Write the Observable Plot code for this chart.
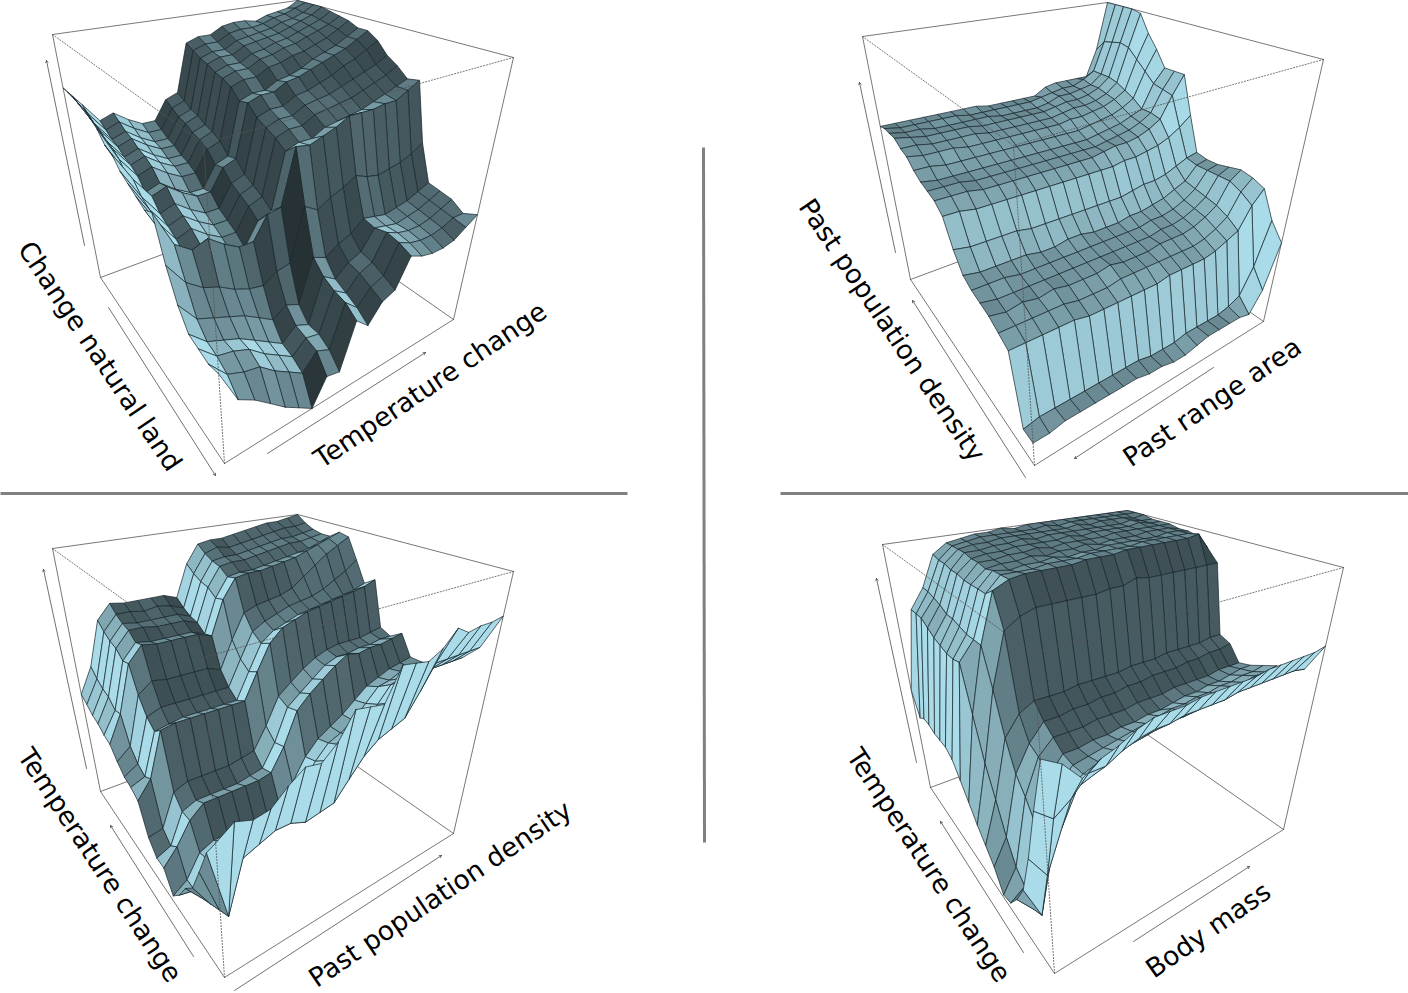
<!DOCTYPE html>
<html><head><meta charset="utf-8">
<style>html,body{margin:0;padding:0;background:#fff}svg{display:block}</style>
<script src="https://cdn.jsdelivr.net/npm/d3@7"></script>
<script src="https://cdn.jsdelivr.net/npm/@observablehq/plot@0.6"></script>
</head><body><div id="chart"></div>
<script>
// Surface heights in percent of box height; rows run front to back, columns left-front to right-front.
const zPanel1 = [
[28,17,14,10,6,3,0,8,7,22,18,24,26,36,34,33,33,34,37,40],
[27,21,19,18,14,11,8,13,11,25,21,26,28,38,36,35,35,36,38,38],
[28,23,22,20,16,13,10,14,13,26,23,28,30,39,37,36,36,37,39,41],
[29,24,22,20,17,14,11,15,13,28,25,29,31,38,37,36,37,38,40,42],
[35,28,26,24,22,19,16,19,17,32,30,33,35,39,38,37,38,39,41,43],
[45,37,33,31,28,26,25,28,29,48,45,48,50,53,51,50,51,52,54,57],
[60,47,43,45,41,38,38,46,47,68,67,69,71,74,74,74,75,75,78,81],
[58,46,38,40,36,33,33,41,43,64,66,66,69,70,71,72,74,76,78,80],
[60,49,41,43,39,36,36,44,46,67,69,69,72,73,74,75,77,79,81,84],
[62,51,43,45,41,38,38,46,48,69,71,71,74,75,76,78,80,82,84,87],
[64,53,45,47,43,40,40,48,50,71,73,73,76,77,79,81,84,86,89,92],
[68,57,49,51,47,44,44,52,54,75,77,77,80,81,83,85,87,89,92,95],
[69,56,48,50,46,43,43,51,53,74,76,76,79,80,82,85,87,89,92,95],
[73,60,52,54,50,47,47,55,57,78,80,80,83,84,86,87,89,91,94,97],
[75,62,54,56,52,49,49,57,59,80,82,82,85,86,88,89,91,93,95,98],
[77,63,55,57,53,50,50,58,60,81,83,83,86,87,89,90,92,94,96,99],
[77,65,57,59,55,52,52,60,62,83,85,85,88,89,90,91,93,95,97,100],
[78,66,58,60,56,53,53,61,63,84,86,86,89,90,91,92,94,95,97,100],
[78,68,60,62,58,55,55,63,65,86,88,88,91,92,92,93,95,96,98,100],
[78,70,62,64,60,57,57,65,67,88,90,90,93,94,94,93,95,96,97,100]];
const zPanel2 = [
[7,7,8,8,8,8,8,8,7,7,6,6,7,8,8,8,8,7,14,30],
[7,8,8,8,8,8,8,8,8,7,7,7,8,8,8,8,9,11,20,36],
[28,28,28,28,28,27,27,27,27,27,27,28,28,28,28,29,31,33,41,46],
[30,30,30,30,30,29,29,29,30,30,30,30,30,30,30,31,33,36,44,48],
[32,31,32,31,32,31,31,31,32,31,31,31,32,32,32,33,35,38,46,49],
[33,32,32,32,32,32,32,32,32,32,32,32,32,33,33,34,36,39,46,48],
[34,34,34,33,33,33,33,33,33,33,33,33,33,34,34,35,37,40,46,47],
[36,35,35,35,35,34,34,35,35,34,34,34,35,35,36,37,39,41,46,47],
[42,41,41,41,41,40,40,40,40,40,40,40,40,41,42,42,43,45,47,48],
[51,51,50,50,50,50,50,50,50,50,50,50,50,51,51,52,53,55,58,62],
[54,54,54,53,53,53,53,53,53,53,53,53,54,55,55,56,58,61,70,78],
[55,55,55,54,54,54,54,54,54,54,54,54,54,55,56,57,59,62,71,78],
[56,55,55,55,55,55,55,55,55,55,55,55,55,56,57,58,60,62,72,78],
[58,58,57,57,57,57,57,57,57,57,57,57,57,58,59,60,62,65,76,85],
[61,60,60,60,59,59,59,59,59,59,59,59,60,60,61,62,64,67,80,91],
[62,62,61,61,61,61,60,60,60,60,60,60,61,62,62,63,65,69,84,99],
[64,63,62,62,62,62,61,61,61,61,61,61,62,63,63,64,66,70,85,100],
[64,63,63,62,62,62,62,62,61,61,61,61,62,64,64,65,66,70,84,100],
[64,63,63,63,63,63,62,62,62,62,62,62,63,64,65,65,67,70,83,100],
[63,63,63,63,63,63,63,63,62,62,62,62,62,65,66,66,66,66,78,100]];
const zPanel3 = [
[42,46,44,45,50,54,53,58,67,66,65,77,76,75,78,84,81,82,82,83],
[35,12,28,30,32,32,30,31,32,38,44,48,50,52,60,69,69,69,69,69],
[25,10,24,27,28,28,27,28,28,34,40,44,46,49,55,63,63,63,63,63],
[16,8,20,23,24,24,23,24,24,30,37,41,43,46,51,58,58,59,59,59],
[12,6,16,20,20,20,19,20,20,27,34,38,40,43,48,54,55,56,56,56],
[6,5,13,17,17,17,16,17,17,24,31,36,38,41,46,51,52,54,54,55],
[2,5,12,14,14,14,14,14,15,22,30,35,38,41,45,49,51,53,54,55],
[8,13,20,24,24,24,24,24,25,33,45,50,54,58,61,60,61,61,62,63],
[8,10,20,22,22,22,22,23,24,32,44,48,52,56,58,58,59,59,60,60],
[12,13,24,26,26,26,26,27,28,36,46,50,54,57,59,60,60,60,61,62],
[22,28,44,45,45,45,45,45,45,55,65,70,72,74,75,76,77,78,79,81],
[24,26,41,42,43,43,43,43,43,53,63,67,69,71,72,73,74,75,76,78],
[25,28,44,46,46,46,46,46,46,56,66,69,71,73,74,75,77,80,83,87],
[28,32,50,54,53,53,53,53,51,62,72,74,75,76,78,82,86,90,93,96],
[32,42,60,66,65,65,65,65,63,77,85,86,86,87,88,89,91,93,95,97],
[33,41,59,65,64,64,64,64,62,76,84,85,85,86,87,88,89,90,92,94],
[35,44,62,68,68,67,67,67,65,79,87,88,88,89,90,91,92,92,93,94],
[36,45,63,69,68,68,68,68,66,80,88,89,89,90,91,92,93,93,94,95],
[38,47,65,71,71,70,71,70,68,82,90,92,91,92,93,94,95,96,96,97],
[40,50,68,74,73,73,73,73,71,85,93,94,94,95,96,97,98,98,99,100]];
const zPanel4 = [
[67,63,56,60,62,65,67,67,67,68,68,68,68,68,69,69,69,69,69,70],
[47,42,46,52,52,55,57,58,58,59,59,59,59,60,60,60,60,60,60,59],
[28,20,33,44,46,49,51,52,53,54,54,55,55,56,56,56,57,57,56,56],
[14,3,24,40,43,45,47,48,49,50,50,51,52,52,53,54,54,55,55,56],
[7,1,22,38,43,44,45,46,47,48,49,50,50,51,51,52,52,53,53,54],
[2,5,24,38,44,44,45,45,46,46,47,47,48,49,49,50,50,51,52,52],
[1,8,30,42,47,47,47,48,48,48,49,49,49,50,50,50,50,51,51,51],
[7,15,35,44,50,50,51,51,52,52,53,53,54,54,54,55,55,56,56,57],
[11,25,45,52,55,55,55,56,56,56,56,57,57,57,58,58,58,58,59,59],
[15,35,60,80,84,86,86,86,86,86,87,87,89,88,88,88,88,88,88,88],
[20,50,74,93,96,97,97,97,97,98,98,98,99,99,99,99,99,99,100,93],
[25,67,74,90,96,96,96,97,97,97,98,98,98,98,99,99,99,99,99,97],
[30,66,74,90,96,95,96,96,97,96,97,97,98,98,98,98,98,99,99,98],
[32,66,75,90,95,96,96,97,96,97,97,98,97,98,98,98,99,99,99,98],
[32,67,76,90,96,96,97,97,98,97,98,98,98,98,99,99,99,99,99,99],
[32,68,76,91,96,97,97,98,98,98,98,99,98,99,99,99,99,100,99,99],
[33,70,78,91,97,97,98,98,99,98,99,99,99,99,99,99,99,100,99,99],
[33,72,79,92,97,98,98,99,99,99,99,99,99,100,99,100,100,100,99,100],
[31,72,80,92,97,98,99,99,99,99,99,100,99,100,100,100,100,100,100,100],
[40,72,80,93,97,98,99,99,100,99,100,100,100,100,100,100,100,100,100,100]];

const labelsLeft = ["Change natural land","Past population density","Temperature change","Temperature change"];
const labelsRight = ["Temperature change","Past range area","Past population density","Body mass"];

// View of the box (options for the projection), one offset per panel.
const boxBottom = {F:[224,463],R:[453,319],K:[291,206],L:[100,277]};
const boxTop = {F:[203,143],R:[513,57],K:[297,0],L:[52,34]};
const offsets = [[0,0],[810,2],[0,514],[830,510]];
const lights = [[.9,.5,.42,-.18],[.71,-.26,-.24,-.08],[.88,-.3,.40,-.31],[.88,-.2,.42,-.3]];
const surfaces = [zPanel1,zPanel2,zPanel3,zPanel4];
const labelLeftAt = [[99,356,56],[891,330,56],[99,865,56.5],[928,865,56.5]];
const labelRightAt = [[430,385,-34],[1212,402,-34],[440,894,-34],[1208,930,-35]];
const arrowSpecs = [
 [[84,245,46,60],[108,307,215,475],[267,453,425,352]],
 [[895,252,859,82],[1025,477,912,300],[1213,367,1074,458]],
 [[86,768,43,569],[193,956,110,825],[234,990,441,855]],
 [[916,762,876,578],[1023,952,940,821],[1133,941,1249,866]]];
const dividers = [[0,493,627,493],[780,493,1408,493],[703,147,704,842]];

function homography(q){
  const [x0,y0]=q.F,[x1,y1]=q.R,[x2,y2]=q.K,[x3,y3]=q.L;
  const dx1=x1-x2,dx2=x3-x2,sx=x0-x1+x2-x3,dy1=y1-y2,dy2=y3-y2,sy=y0-y1+y2-y3;
  const det=dx1*dy2-dx2*dy1,g=(sx*dy2-dx2*sy)/det,h=(dx1*sy-sx*dy1)/det;
  return (a,b)=>{const w=1+g*a+h*b;return [(x0+(x1*(1+g)-x0)*a+(x3*(1+h)-x0)*b)/w,(y0+(y1*(1+g)-y0)*a+(y3*(1+h)-y0)*b)/w];};
}
const hBottom=homography(boxBottom),hTop=homography(boxTop);
function project(a,b,c,off){const p=hBottom(a,b),q=hTop(a,b);return {x:p[0]+(q[0]-p[0])*c+off[0],y:p[1]+(q[1]-p[1])*c+off[1]};}

const N=19, polys=[], solid=[], dotted=[];
surfaces.forEach((z,k)=>{
  const off=offsets[k],[v0,A,B,C]=lights[k];
  for(let j=N-1;j>=0;j--)for(let i=N-1;i>=0;i--){
    const c00=z[j][i]/100,c10=z[j][i+1]/100,c01=z[j+1][i]/100,c11=z[j+1][i+1]/100;
    const da=(c10+c11-c00-c01)/2*N,db=(c01+c11-c00-c10)/2*N,m=Math.hypot(da,db,1);
    const v=Math.max(0.03,Math.min(1,v0+A*(-da/m)+B*(-db/m)+C*(1/m)));
    const id=`${k}-${i}-${j}`;
    [[i,j,c00],[i+1,j,c10],[i+1,j+1,c11],[i,j+1,c01],[i,j,c00]].forEach(([u,w,c])=>{
      const p=project(u/N,w/N,c,off);polys.push({id,x:p.x,y:p.y,shade:v});
    });
  }
  const e=(a,b,c,a2,b2,c2,arr)=>{const id=`${k}-${arr.length}`;arr.push({id,...project(a,b,c,off)});arr.push({id,...project(a2,b2,c2,off)});};
  [[0,1,1,1,1,1],[1,1,1,1,0,1],[0,1,0,0,1,1],[1,0,0,1,0,1],[0,1,0,1,1,0],[1,1,0,1,0,0],[1,1,0,1,1,1],[0,0,0,1,0,0],[0,0,0,0,1,0]].forEach(s=>e(...s,solid));
  [[0,1,1,0,0,1],[1,0,1,0,0,1],[0,0,0,0,0,1]].forEach(s=>e(...s,dotted));
});
const arrows=arrowSpecs.flat().map(([x1,y1,x2,y2])=>({x1,y1,x2,y2}));
const rules=dividers.map(([x1,y1,x2,y2])=>({x1,y1,x2,y2}));
const texts=[...labelsLeft.map((t,i)=>({t,x:labelLeftAt[i][0],y:labelLeftAt[i][1],r:labelLeftAt[i][2]})),
             ...labelsRight.map((t,i)=>({t,x:labelRightAt[i][0],y:labelRightAt[i][1],r:labelRightAt[i][2]}))];

const chart=Plot.plot({
  width:1408,height:993,margin:0,
  x:{domain:[0,1408],range:[0,1408],axis:null},
  y:{domain:[0,993],range:[0,993],axis:null},
  color:{type:"linear",domain:[0,1],range:["#000000","#a9dbe9"],interpolate:"rgb"},
  marks:[
    Plot.line(solid,{x:"x",y:"y",z:"id",stroke:"#555",strokeWidth:0.8}),
    Plot.line(polys,{x:"x",y:"y",z:"id",fill:"shade",stroke:"#15242a",strokeWidth:0.7,strokeLinejoin:"round"}),
    Plot.line(dotted,{x:"x",y:"y",z:"id",stroke:"#555",strokeWidth:0.8,strokeDasharray:"1.2 1.8"}),
    Plot.arrow(arrows,{x1:"x1",y1:"y1",x2:"x2",y2:"y2",stroke:"#333",strokeWidth:0.7,headLength:5}),
    Plot.link(rules,{x1:"x1",y1:"y1",x2:"x2",y2:"y2",stroke:"#808080",strokeWidth:3}),
    Plot.text(texts,{x:"x",y:"y",text:"t",rotate:"r",fontSize:26.5,fontFamily:"DejaVu Sans",fill:"#000",textAnchor:"middle",lineAnchor:"middle"})
  ]
});
document.getElementById("chart").appendChild(chart);
</script></body></html>
